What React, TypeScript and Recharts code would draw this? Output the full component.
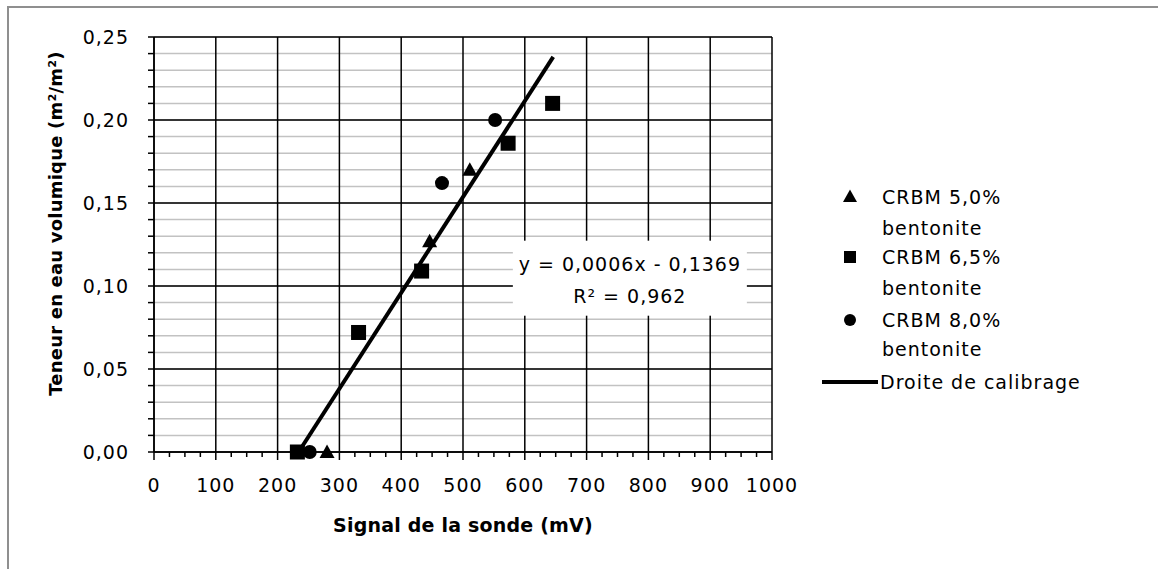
import React from 'react';
import { ScatterChart, Scatter, XAxis, YAxis, CartesianGrid, ReferenceDot, Legend } from 'recharts';

const xTicks = [0, 25, 50, 75, 100, 125, 150, 175, 200, 225, 250, 275, 300, 325, 350, 375, 400, 425, 450, 475, 500, 525, 550, 575, 600, 625, 650, 675, 700, 725, 750, 775, 800, 825, 850, 875, 900, 925, 950, 975, 1000];
const xLabelTicks = [0, 100, 200, 300, 400, 500, 600, 700, 800, 900, 1000];
const yTicks = [0, 0.01, 0.02, 0.03, 0.04, 0.05, 0.06, 0.07, 0.08, 0.09, 0.1, 0.11, 0.12, 0.13, 0.14, 0.15, 0.16, 0.17, 0.18, 0.19, 0.2, 0.21, 0.22, 0.23, 0.24, 0.25];
const yLabelTicks = [0, 0.05, 0.1, 0.15, 0.2, 0.25];

const crbm50 = [
  { x: 280, y: 0 },
  { x: 446, y: 0.127 },
  { x: 511, y: 0.17 },
];
const crbm65 = [
  { x: 232, y: 0 },
  { x: 331, y: 0.072 },
  { x: 433, y: 0.109 },
  { x: 573, y: 0.186 },
  { x: 645, y: 0.21 },
];
const crbm80 = [
  { x: 252, y: 0 },
  { x: 466, y: 0.162 },
  { x: 552, y: 0.2 },
];
const trend = [
  { x: 234, y: 0 },
  { x: 646, y: 0.238 },
];

const seriesNames = ['CRBM 5,0%', 'CRBM 6,5%', 'CRBM 8,0%'];
const seriesSub = 'bentonite';
const trendName = 'Droite de calibrage';
const equationLines = ['y = 0,0006x - 0,1369', 'R² = 0,962'];
const equationPos = { x: 770, y: 0.105 };

const FONT = '"DejaVu Sans", sans-serif';
const textStyle = { fontFamily: FONT, fontSize: 19, letterSpacing: 1, fill: '#000' };

const fmtY = (v: number) => v.toFixed(2).replace('.', ',');

const XTick = (props: any) => {
  const { x, y, payload } = props;
  const major = xLabelTicks.includes(payload.value);
  return (
    <g>
      <line x1={x} x2={x} y1={y} y2={y + (major ? 8 : 5)} stroke="#000" strokeWidth={1.5} />
      {major && (
        <text x={x} y={y + 33} textAnchor="middle" dominantBaseline="central" style={textStyle}>
          {payload.value}
        </text>
      )}
    </g>
  );
};

const YTick = (props: any) => {
  const { x, y, payload } = props;
  const major = yLabelTicks.includes(payload.value);
  return (
    <g>
      <line x1={x - 6} x2={x} y1={y} y2={y} stroke="#000" strokeWidth={1.5} />
      {major && (
        <text x={x - 25} y={y} textAnchor="end" dominantBaseline="central" style={textStyle}>
          {fmtY(payload.value)}
        </text>
      )}
    </g>
  );
};

const Triangle = (props: any) => {
  const { cx, cy } = props;
  return <polygon points={`${cx},${cy - 7.5} ${cx - 7.5},${cy + 6} ${cx + 7.5},${cy + 6}`} fill="#000" />;
};
const Square = (props: any) => {
  const { cx, cy } = props;
  return <rect x={cx - 7.5} y={cy - 7.5} width={15} height={15} fill="#000" />;
};
const Dot = (props: any) => {
  const { cx, cy } = props;
  return <circle cx={cx} cy={cy} r={7} fill="#000" />;
};
const NoShape = () => <g />;

const EquationBox = (props: any) => {
  const { cx, cy } = props;
  return (
    <g>
      <rect x={cx - 117} y={cy - 37} width={234} height={75} fill="#fff" />
      <text x={cx} y={cy - 14} textAnchor="middle" dominantBaseline="central" style={textStyle}>
        {equationLines[0]}
      </text>
      <text x={cx} y={cy + 18} textAnchor="middle" dominantBaseline="central" style={textStyle}>
        {equationLines[1]}
      </text>
    </g>
  );
};

const renderLegend = () => (
  <svg width={290} height={230} style={{ overflow: 'visible' }}>
    <polygon points="35,14.5 28,27 42,27" fill="#000" />
    <rect x={29} y={76} width={12} height={12} fill="#000" />
    <circle cx={35} cy={145} r={6} fill="#000" />
    <line x1={7} x2={63} y1={207} y2={207} stroke="#000" strokeWidth={4} />
    <text x={67} y={22} dominantBaseline="central" style={textStyle}>{seriesNames[0]}</text>
    <text x={67} y={53} dominantBaseline="central" style={textStyle}>{seriesSub}</text>
    <text x={67} y={82} dominantBaseline="central" style={textStyle}>{seriesNames[1]}</text>
    <text x={67} y={113} dominantBaseline="central" style={textStyle}>{seriesSub}</text>
    <text x={67} y={145} dominantBaseline="central" style={textStyle}>{seriesNames[2]}</text>
    <text x={67} y={174} dominantBaseline="central" style={textStyle}>{seriesSub}</text>
    <text x={65} y={207} dominantBaseline="central" style={textStyle}>{trendName}</text>
  </svg>
);

export default function App() {
  return (
    <div style={{ position: 'absolute', left: 0, top: 0, width: 1158, height: 569, overflow: 'hidden', background: '#fff' }}>
      <div
        style={{
          position: 'absolute',
          left: 7,
          top: 6,
          width: 1300,
          height: 700,
          borderTop: '2px solid #8f8f8f',
          borderLeft: '2px solid #8f8f8f',
        }}
      />
      <div style={{ position: 'absolute', left: 0, top: 0 }}>
        <ScatterChart width={1158} height={569} margin={{ top: 37, right: 386, bottom: 87, left: 94 }}>
          <CartesianGrid horizontalValues={yTicks} vertical={false} stroke="#c2c2c2" strokeWidth={1.5} />
          <CartesianGrid horizontalValues={yLabelTicks} verticalValues={xLabelTicks} stroke="#000" strokeWidth={1.5} />
          <XAxis
            type="number"
            dataKey="x"
            domain={[0, 1000]}
            ticks={xTicks}
            interval={0}
            height={30}
            tickSize={0}
            tickMargin={0}
            tickLine={false}
            tick={<XTick />}
            axisLine={{ stroke: '#000', strokeWidth: 1.5 }}
            label={(p: any) => {
              const vb = p.viewBox;
              return (
                <text
                  x={vb.x + vb.width / 2}
                  y={vb.y + 73}
                  textAnchor="middle"
                  dominantBaseline="central"
                  style={{ fontFamily: FONT, fontSize: 19, letterSpacing: 0.2, fontWeight: 'bold', fill: '#000' }}
                >
                  Signal de la sonde (mV)
                </text>
              );
            }}
          />
          <YAxis
            type="number"
            dataKey="y"
            domain={[0, 0.25]}
            ticks={yTicks}
            interval={0}
            width={60}
            tickSize={0}
            tickMargin={0}
            tickLine={false}
            tick={<YTick />}
            axisLine={{ stroke: '#000', strokeWidth: 1.5 }}
            label={(p: any) => {
              const vb = p.viewBox;
              const cx = 55;
              const cy = vb.y + vb.height / 2 - 21;
              return (
                <text
                  x={cx}
                  y={cy}
                  transform={`rotate(-90 ${cx} ${cy})`}
                  textAnchor="middle"
                  dominantBaseline="central"
                  style={{ fontFamily: FONT, fontSize: 18, letterSpacing: 0.2, fontWeight: 'bold', fill: '#000' }}
                >
                  Teneur en eau volumique (m²/m²)
                </text>
              );
            }}
          />
          <ReferenceDot x={equationPos.x} y={equationPos.y} shape={<EquationBox />} ifOverflow="visible" />
          <Scatter name={seriesNames[0]} data={crbm50} shape={<Triangle />} isAnimationActive={false} />
          <Scatter name={seriesNames[1]} data={crbm65} shape={<Square />} isAnimationActive={false} />
          <Scatter name={seriesNames[2]} data={crbm80} shape={<Dot />} isAnimationActive={false} />
          <Scatter
            name={trendName}
            data={trend}
            shape={<NoShape />}
            line={{ stroke: '#000', strokeWidth: 4 }}
            isAnimationActive={false}
          />
          <Legend
            layout="vertical"
            align="center"
            verticalAlign="middle"
            content={renderLegend}
            wrapperStyle={{ position: 'absolute', left: 815, top: 175, width: 290, height: 230 }}
          />
        </ScatterChart>
      </div>
    </div>
  );
}
